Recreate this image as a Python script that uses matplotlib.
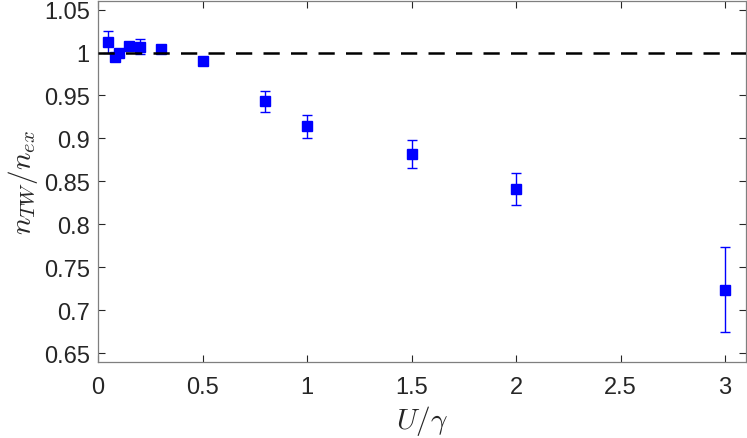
import matplotlib
matplotlib.use("Agg")
import matplotlib.pyplot as plt
from matplotlib.ticker import FuncFormatter

# data
U_GAMMA = [0.05, 0.08, 0.1, 0.15, 0.2, 0.3, 0.5, 0.8, 1.0, 1.5, 2.0, 3.0]
RATIO   = [1.0125, 0.9946, 1.0, 1.0075, 1.007, 1.0045, 0.9905, 0.943, 0.914, 0.882, 0.841, 0.724]
ERR     = [0.0125, 0.004, 0.003, 0.003, 0.009, 0.004, 0.002, 0.012, 0.013, 0.016, 0.019, 0.049]
XTICKS  = [0, 0.5, 1, 1.5, 2, 2.5, 3]
YTICKS  = [0.65, 0.7, 0.75, 0.8, 0.85, 0.9, 0.95, 1.0, 1.05]

plt.rcParams.update({
    "font.family": "sans-serif",
    "font.sans-serif": ["Liberation Sans", "DejaVu Sans"],
    "mathtext.fontset": "cm",
    "font.size": 17,
})
AXC = "#262626"

fig = plt.figure(figsize=(7.47, 4.39), dpi=100)
ax = fig.add_axes([0.1312, 0.1738, 0.8675, 0.8216])

ax.plot([0, 3.1], [1, 1], color="black", lw=1.8, dashes=(6.5, 4.5), zorder=3)
ax.errorbar(U_GAMMA, RATIO, yerr=ERR, fmt="s", color="#0000ff", mfc="#0000ff",
            mec="#0000ff", ms=7.8, elinewidth=1.0, capsize=3.5, capthick=1.0, zorder=2)

ax.set_xlim(0, 3.1)
ax.set_ylim(0.64, 1.06)
ax.set_xticks(XTICKS)
ax.set_yticks(YTICKS)
fmt = FuncFormatter(lambda v, p: f"{v:g}")
ax.xaxis.set_major_formatter(fmt)
ax.yaxis.set_major_formatter(fmt)
ax.tick_params(direction="in", length=5, width=0.8, colors=AXC, labelcolor=AXC,
               top=True, right=True, labelsize=17)
ax.tick_params(axis="x", pad=10)
ax.tick_params(axis="y", pad=6)
for sp in ax.spines.values():
    sp.set_color("#7f7f7f")
    sp.set_linewidth(0.9)

ax.set_xlabel(r"$U/\gamma$", fontsize=21, color=AXC, labelpad=4)
ax.set_ylabel(r"$n_{TW}/n_{ex}$", fontsize=21, color=AXC, labelpad=3)

fig.savefig("out.png", dpi=100)
